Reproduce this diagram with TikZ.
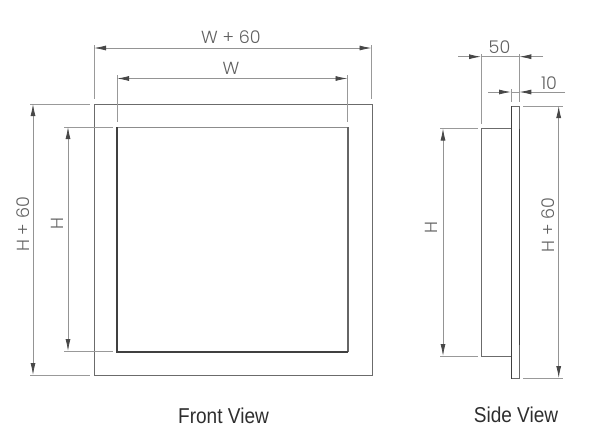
\documentclass[tikz,border=0pt]{standalone}
\usepackage{fontspec}
\setmainfont{Liberation Sans}
\newfontfamily\dimfont{Poppins Light}
\IfFontExistsTF{Poppins Light}{}{\newfontfamily\dimfont{Poppins}}
\usetikzlibrary{arrows.meta}
\tikzset{
  x=1pt,y=-1pt,
  outline/.style={draw=black!58,line width=0.9pt},
  innerl/.style={draw=black!75,line width=1.3pt},
  extline/.style={draw=black!40,line width=0.7pt},
  dimline/.style={draw=black!42,line width=0.8pt,{Latex[length=12pt,width=5pt,black!72]}-{Latex[length=12pt,width=5pt,black!72]}},
  dimtip/.style={draw=black!42,line width=0.8pt,-{Latex[length=12pt,width=5pt,black!72]}},
  dimtext/.style={inner sep=0pt,text=black!62,font=\dimfont\fontsize{17.5}{20}\selectfont},
  viewtext/.style={inner sep=0pt,text=black!82,font=\fontsize{21.5}{24}\selectfont\addfontfeature{FakeStretch=0.886}}
}
\begin{document}
\begin{tikzpicture}
\useasboundingbox (0,0) rectangle (600,437);
% front view
\coordinate (fa) at (94.5,104); \coordinate (fb) at (372,104); \coordinate (fc) at (372,375.5); \coordinate (fd) at (94.5,375.5);
\coordinate (ia) at (117,127); \coordinate (ib) at (348,127); \coordinate (ic) at (348,352); \coordinate (id) at (117,352);
\draw[outline] (fa) -- (fb) -- (fc) -- (fd) -- cycle;
\draw[draw=black!45,line width=1pt] (ia) -- (ib);
\draw[draw=black!60,line width=1.1pt] (ib) -- (ic);
\draw[innerl] (ic) -- (id) -- (ia);
% front extension lines
\coordinate (e1a) at (94,45); \coordinate (e1b) at (94,99);
\coordinate (e2a) at (371.5,45); \coordinate (e2b) at (371.5,99);
\coordinate (e3a) at (117,75); \coordinate (e3b) at (117,122);
\coordinate (e4a) at (347.5,75); \coordinate (e4b) at (347.5,122);
\coordinate (e5a) at (30,104); \coordinate (e5b) at (90,104);
\coordinate (e6a) at (30,375); \coordinate (e6b) at (90,375);
\coordinate (e7a) at (64,127); \coordinate (e7b) at (113,127);
\coordinate (e8a) at (64,351); \coordinate (e8b) at (113,351);
\foreach \n in {1,...,8} {\draw[extline] (e\n a) -- (e\n b);}
% front dimensions
\coordinate (d1a) at (94,48); \coordinate (d1b) at (371.5,48);
\coordinate (d2a) at (117,78.5); \coordinate (d2b) at (347.5,78.5);
\coordinate (d3a) at (33,104); \coordinate (d3b) at (33,375);
\coordinate (d4a) at (68,127); \coordinate (d4b) at (68,351);
\foreach \n in {1,...,4} {\draw[dimline] (d\n a) -- (d\n b);}
\node[dimtext] (tw60) at (231,37) {W + 60};
\node[dimtext] (tw) at (231,68) {W};
\node[dimtext,rotate=90] (th60) at (23,224.5) {H + 60};
\node[dimtext,rotate=90] (th) at (57,224) {H};
\node[viewtext] (front) at (223.5,416) {Front View};
% side view
\coordinate (pa) at (511,106); \coordinate (pb) at (519.3,106); \coordinate (pc) at (519.3,378.7); \coordinate (pd) at (511,378.7);
\coordinate (ba) at (481,128.7); \coordinate (bb) at (511,128.7); \coordinate (bc) at (511,356); \coordinate (bd) at (481,356);
\draw[outline] (pb) -- (pc) -- (pd);
\draw[outline] (pb) -- (pa);
\draw[draw=black!75,line width=1pt] (pa) -- (pd);
\coordinate (pe) at (519.3,128.7); \coordinate (pf) at (519.3,345);
\draw[draw=black!75,line width=1pt] (pe) -- (pf);
\draw[outline,line width=1pt] (bb) -- (ba) -- (bd) -- (bc);
% side extension lines
\coordinate (s1a) at (481,54); \coordinate (s1b) at (481,124);
\coordinate (s2a) at (519.3,54); \coordinate (s2b) at (519.3,102);
\coordinate (s3a) at (511,89); \coordinate (s3b) at (511,102);
\coordinate (s4a) at (523,106); \coordinate (s4b) at (563,106);
\coordinate (s5a) at (523,378); \coordinate (s5b) at (563,378);
\coordinate (s6a) at (440,128.5); \coordinate (s6b) at (478,128.5);
\coordinate (s7a) at (440,356); \coordinate (s7b) at (478,356);
\foreach \n in {1,...,7} {\draw[extline] (s\n a) -- (s\n b);}
% side dimensions
\coordinate (q1a) at (458,56.7); \coordinate (q1b) at (481,56.7);
\coordinate (q1c) at (543,56.7); \coordinate (q1d) at (519.3,56.7);
\coordinate (q2a) at (488,92); \coordinate (q2b) at (511,92);
\coordinate (q2c) at (565,92); \coordinate (q2d) at (519.3,92);
\draw[dimtip] (q1a) -- (q1b);
\draw[dimtip] (q1c) -- (q1d);
\draw[extline] (q1b) -- (q1d);
\draw[dimtip] (q2a) -- (q2b);
\draw[dimtip] (q2c) -- (q2d);
\draw[extline] (q2b) -- (q2d);
\coordinate (q3a) at (558.7,106); \coordinate (q3b) at (558.7,378);
\coordinate (q4a) at (443,128.5); \coordinate (q4b) at (443,356);
\draw[dimline] (q3a) -- (q3b);
\draw[dimline] (q4a) -- (q4b);
\node[dimtext] (t50) at (499.5,47) {50};
\node[dimtext] (t10) at (549,83) {10};
\node[dimtext,rotate=90] (sh) at (431,228) {H};
\node[dimtext,rotate=90] (sh60) at (548,225) {H + 60};
\node[viewtext] (side) at (516,415) {Side View};
\end{tikzpicture}
\end{document}
